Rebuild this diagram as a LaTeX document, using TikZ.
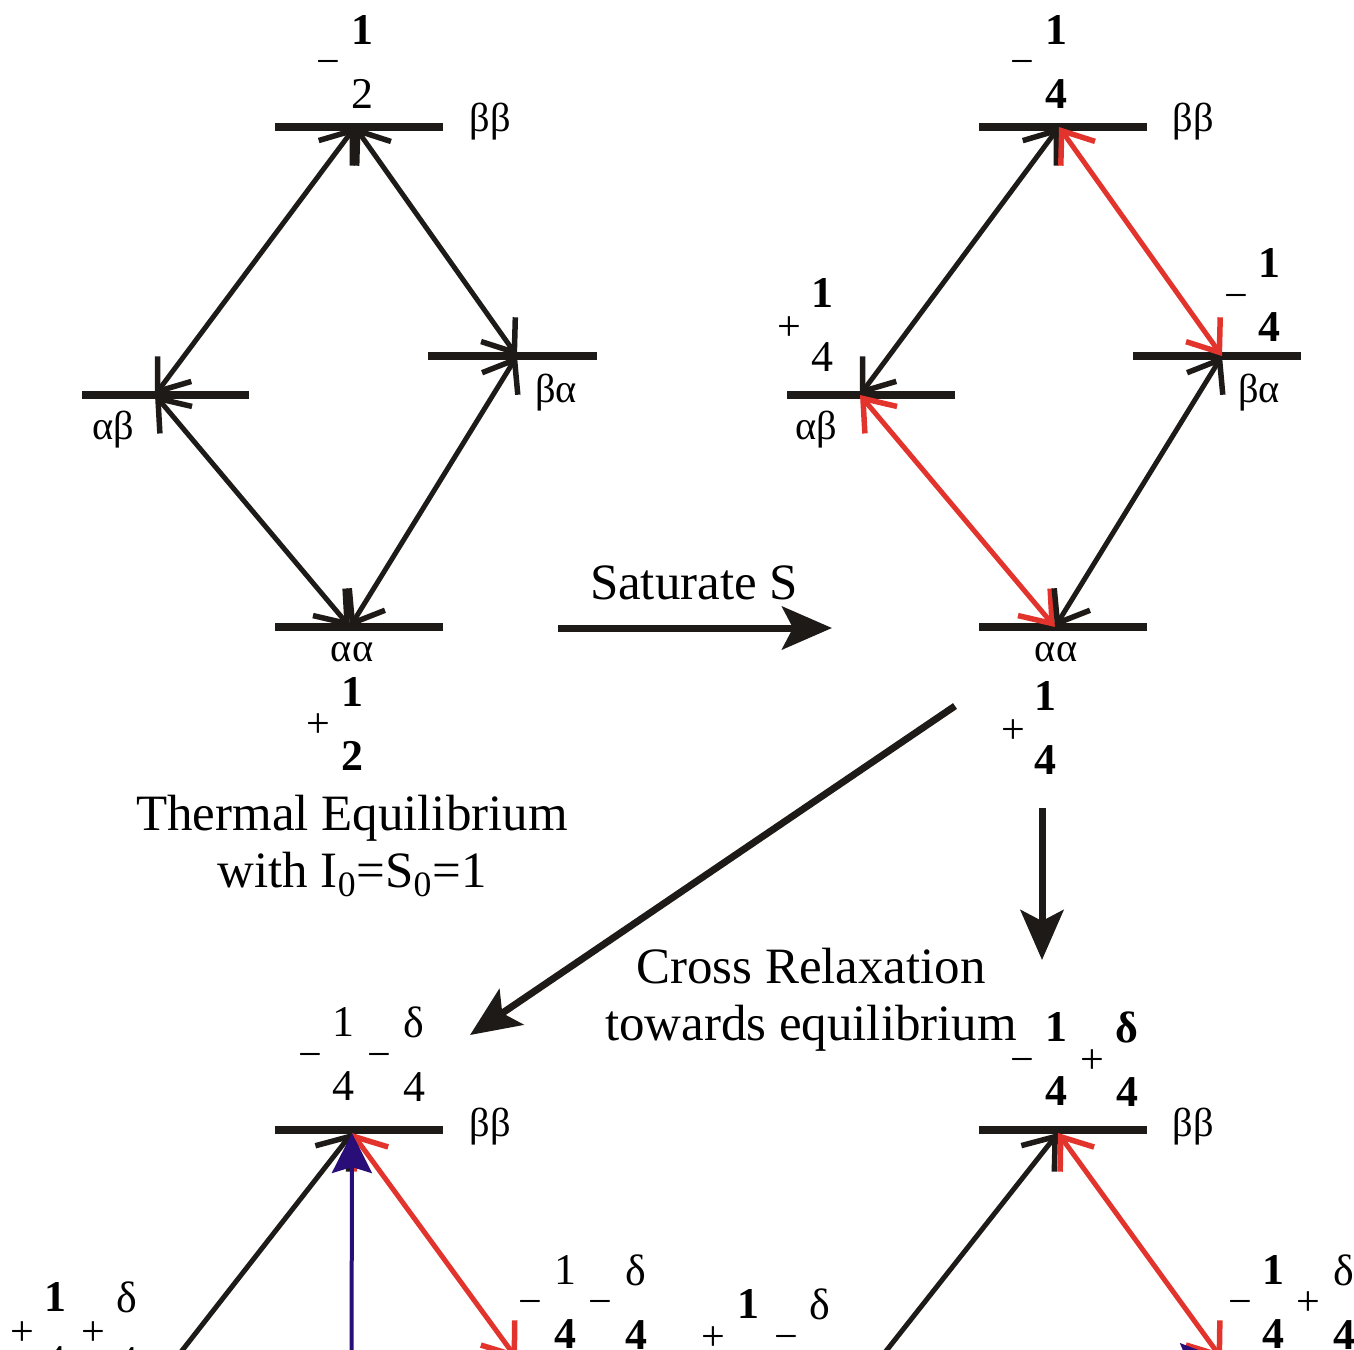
\documentclass[tikz,border=0pt]{standalone}
\usepackage{fontspec}
\setmainfont{Liberation Serif}
\usetikzlibrary{arrows.meta}

\definecolor{ink}{RGB}{30,26,24}
\definecolor{relax}{RGB}{226,52,44}
\definecolor{sat}{RGB}{42,14,120}

\tikzset{
  lvl/.style={ink, line width=0.16cm},
  trans/.style={ink, line width=0.1cm,
    {Straight Barb[length=0.56cm,width=0.84cm,line width=0.11cm]}-{Straight Barb[length=0.56cm,width=0.84cm,line width=0.11cm]}},
  xrel/.style={trans, relax},
  bigarr/.style={ink, line width=0.14cm, -{Stealth[length=1cm,width=0.86cm,inset=0.22cm]}},
  satarr/.style={sat, line width=0.08cm, -{Stealth[length=0.8cm,width=0.8cm,inset=0.12cm]}},
  lab/.style={font=\fontsize{23}{23}\selectfont, inner sep=0pt},
  stk/.style={font=\fontsize{25}{36.4}\selectfont, align=center, inner sep=0pt},
  sgn/.style={font=\fontsize{24}{24}\selectfont, inner sep=0pt, anchor=base, yshift=-0.3cm},
  captxt/.style={font=\fontsize{29}{32.5}\selectfont, align=center, inner sep=0pt}
}

\begin{document}
\begin{tikzpicture}[x=0.02cm,y=-0.02cm]
  \useasboundingbox (0,0) rectangle (1354,1349);
  \clip (0,0) rectangle (1354,1349);
  % thermal equilibrium
  \coordinate (bb1) at (355,127);
  \coordinate (ab1) at (155,395);
  \coordinate (ba1) at (517,356);
  \coordinate (aa1) at (350,627);
  % after saturating S
  \coordinate (bb2) at (1059,127);
  \coordinate (ab2) at (860,395);
  \coordinate (ba2) at (1222,356);
  \coordinate (aa2) at (1055,627);
  % cross relaxation, two cases
  \coordinate (bb3) at (352,1133);
  \coordinate (ab3) at (145,1398);
  \coordinate (ba3) at (517,1359);
  \coordinate (aa3) at (351,1630);
  \coordinate (bb4) at (1058,1133);
  \coordinate (ab4) at (849,1398);
  \coordinate (ba4) at (1222,1359);
  % levels
  \draw[lvl] (275,127) -- (443,127);
  \draw[lvl] (82,395) -- (249,395);
  \draw[lvl] (428,356) -- (597,356);
  \draw[lvl] (275,627) -- (443,627);
  \draw[lvl] (979,127) -- (1147,127);
  \draw[lvl] (787,395) -- (955,395);
  \draw[lvl] (1133,356) -- (1301,356);
  \draw[lvl] (979,627) -- (1147,627);
  \draw[lvl] (275,1130) -- (443,1130);
  \draw[lvl] (979,1130) -- (1147,1130);
  % transitions
  \draw[trans] (bb1) -- (ab1);
  \draw[trans] (bb1) -- (ba1);
  \draw[trans] (ab1) -- (aa1);
  \draw[trans] (ba1) -- (aa1);
  \draw[trans] (bb2) -- (ab2);
  \draw[xrel] (bb2) -- (ba2);
  \draw[xrel] (ab2) -- (aa2);
  \draw[trans] (ba2) -- (aa2);
  \draw[trans] (bb3) -- (ab3);
  \draw[xrel] (bb3) -- (ba3);
  \draw[satarr] (aa3) -- (bb3);
  \draw[trans] (bb4) -- (ab4);
  \draw[xrel] (bb4) -- (ba4);
  \draw[satarr] (ab4) -- (ba4);
  % level names
  \node[lab] (lbb1) at (490,122) {ββ};
  \node[lab] (lab1) at (113,430) {αβ};
  \node[lab] (lba1) at (556,393) {βα};
  \node[lab] (laa1) at (352,652) {αα};
  \node[lab] (lbb2) at (1193,122) {ββ};
  \node[lab] (lab2) at (816,430) {αβ};
  \node[lab] (lba2) at (1259,393) {βα};
  \node[lab] (laa2) at (1056,652) {αα};
  \node[lab] (lbb3) at (490,1127) {ββ};
  \node[lab] (lbb4) at (1193,1127) {ββ};
  % populations
  \foreach \x/\y/\s [count=\i] in {328/60/−, 318/722/+, 1022/60/−, 789/325/+,
      1236/294/−, 1013/728/+, 310/1053/−, 379/1053/−, 22/1330/+, 93/1330/+,
      530/1300/−, 600/1300/−, 1022/1058/−, 1092/1058/+, 713/1335/+, 786/1335/−,
      1240/1300/−, 1308/1300/+}
    \node[sgn] (s\i) at (\x,\y) {\s};
  \foreach \x/\y/\n/\d [count=\i] in {362/62/\textbf{1}/2, 352/724/\textbf{1}/\textbf{2},
      1056/62/\textbf{1}/\textbf{4}, 822/325/\textbf{1}/4, 1269/295/\textbf{1}/\textbf{4},
      1045/728/\textbf{1}/\textbf{4}, 343/1054/1/4, 414/1054/δ/4,
      55/1329/\textbf{1}/4, 127/1329/δ/4, 565/1302/1/\textbf{4}, 636/1302/δ/\textbf{4},
      1056/1059/\textbf{1}/\textbf{4}, 1127/1059/\textbf{δ}/\textbf{4},
      748/1336/\textbf{1}/4, 820/1336/δ/4, 1273/1302/\textbf{1}/\textbf{4}, 1344/1302/δ/\textbf{4}}
    \node[stk] (f\i) at (\x,\y) {\n\\\d};
  % steps
  \coordinate (satA) at (558,628);
  \coordinate (satB) at (832,628);
  \coordinate (crA) at (955,706);
  \coordinate (crB) at (470,1035);
  \coordinate (dnA) at (1042,808);
  \coordinate (dnB) at (1042,960);
  \draw[bigarr] (satA) -- (satB);
  \draw[bigarr] (crA) -- (crB);
  \draw[bigarr] (dnA) -- (dnB);
  \node[captxt] (eq) at (352,846) {Thermal Equilibrium\\with I\textsubscript{0}=S\textsubscript{0}=1};
  \node[captxt] (satlab) at (694,583) {Saturate S};
  \node[captxt] (crlab) at (811,1000) {Cross Relaxation\\towards equilibrium};
\end{tikzpicture}
\end{document}
